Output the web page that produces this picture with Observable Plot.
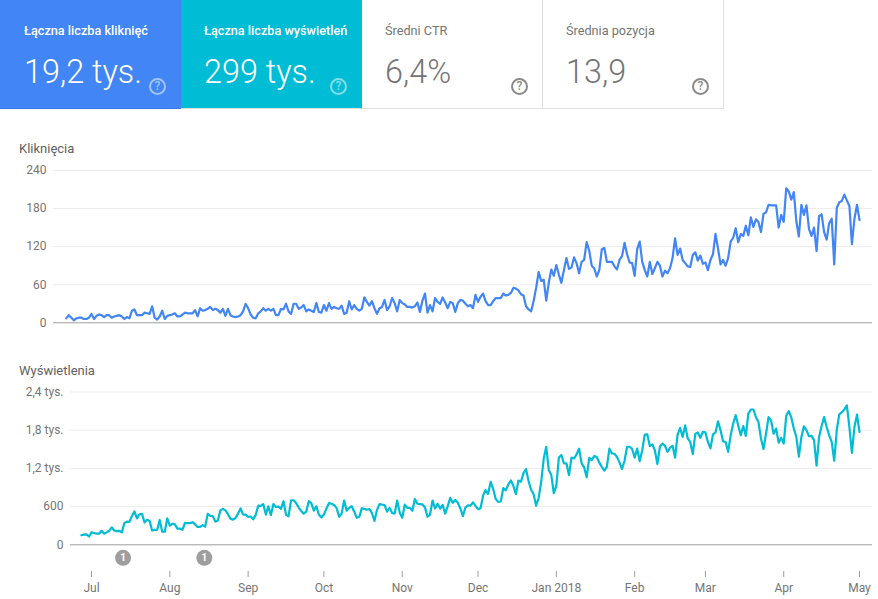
<!DOCTYPE html>
<html>
<head>
<meta charset="utf-8">
<script src="https://cdn.jsdelivr.net/npm/d3@7"></script>
<script src="https://cdn.jsdelivr.net/npm/@observablehq/plot@0.6"></script>
<style>
html,body{margin:0;padding:0;background:#fff;font-family:Roboto,sans-serif}
#page{position:relative;width:878px;height:599px;overflow:hidden}
.card{position:absolute;top:0;height:109px;box-sizing:border-box;border-bottom:1px solid #e0e0e0;border-right:1px solid #e0e0e0}
.card .l{position:absolute;top:22px;font-size:12.7px;line-height:18px;white-space:nowrap}
.card .v{position:absolute;top:50px;font-size:32.4px;line-height:44px;font-weight:300;white-space:nowrap}
.card .q{position:absolute;top:78px;width:17px;height:17px;box-sizing:border-box;border-radius:50%;border:2px solid;font-size:12px;line-height:13px;text-align:center;font-weight:500}
.chartTitle{position:absolute;left:19px;font-size:13px;line-height:16px;color:#616161}
.chart{position:absolute;left:0}
.chart svg{display:block;overflow:visible}
</style>
</head>
<body>
<div id="page"></div>
<script>
const startClicks = "2017-06-21";
const startImpressions = "2017-06-27";
const clicks = [
7,12,8,4,7,8,8,6,6,8,
14,6,11,13,12,9,12,12,8,10,
11,12,10,6,9,7,19,21,12,12,
12,16,15,14,26,8,5,10,19,6,
11,12,13,15,10,10,13,16,15,15,15,
20,10,23,19,20,22,25,20,22,20,
16,22,11,22,12,10,9,10,12,18,
30,23,13,8,7,15,18,23,19,22,
19,22,12,12,22,21,30,18,14,30,
30,22,24,28,18,21,19,17,31,17,
16,28,19,31,22,25,23,22,27,14,
16,34,21,28,22,19,22,40,33,27,
34,23,14,23,25,36,20,26,39,31,
18,36,31,29,25,25,24,26,32,17,35,
46,16,28,18,39,33,30,40,32,23,
33,31,17,31,36,35,30,26,28,23,
44,33,41,46,34,28,28,34,39,39,
39,46,43,44,47,55,54,51,45,43,
26,21,18,34,55,80,66,68,35,63,
84,74,91,76,63,83,102,85,87,103,
94,78,96,99,127,114,90,86,73,83,
116,118,96,96,96,89,84,99,105,126,108,
95,94,74,116,128,96,83,73,96,77,
86,96,90,73,82,78,86,102,133,107,
117,99,94,89,88,107,111,98,106,93,95,
83,99,108,140,117,92,99,90,102,128,
134,149,127,140,137,153,138,166,151,163,
159,143,172,174,186,185,185,185,150,170,159,
212,207,194,206,160,136,186,170,185,148,
137,150,113,168,171,143,131,157,164,92,
181,190,192,202,193,184,124,164,186,162
];
const impressions = [
150,160,165,130,195,185,175,175,220,175,
195,220,275,225,215,220,195,340,365,360,
450,525,415,480,485,350,395,375,225,235,
235,390,205,205,415,300,330,320,255,255,
235,345,340,340,355,320,280,280,310,285,
485,455,450,365,380,540,565,540,485,410,
395,420,490,570,475,475,440,445,400,470,
615,610,640,475,605,465,640,595,600,565,
685,470,450,700,700,655,585,530,490,520,
685,655,535,605,475,430,475,570,655,645,
625,580,440,490,695,535,580,605,520,425,
440,575,565,550,560,500,375,545,640,630,
625,520,580,500,490,695,505,425,630,580,
580,535,720,645,640,635,585,440,475,695,
570,645,570,625,490,605,740,660,705,660,
570,450,585,620,615,665,610,560,575,775,
860,800,990,875,720,675,680,890,855,950,
1010,925,795,1010,990,1125,1190,1000,865,795,
615,735,990,1355,1540,1175,1095,810,930,1370,
1410,1280,1280,1095,1370,1355,1420,1510,1280,1215,
1060,1365,1330,1395,1380,1290,1225,1165,1225,1510,
1435,1430,1380,1295,1190,1320,1540,1540,1505,1370,
1510,1315,1485,1730,1735,1550,1575,1485,1270,1540,
1590,1555,1460,1525,1555,1370,1730,1835,1695,1875,
1670,1615,1425,1740,1765,1680,1775,1765,1615,1515,
1735,1765,1940,1800,1625,1615,1460,1720,1905,2035,
1875,1720,1865,1710,2060,2125,2125,2005,1930,1670,
1505,1745,2005,1955,1745,1825,1605,1680,1590,2025,
2100,2000,1825,1695,1385,1695,1860,1800,1705,1710,
1645,1245,1695,1865,2005,1850,1720,1615,1320,1800,
2050,2085,2125,2190,1850,1445,1850,2045,1775
];
const clickTicks = [0,60,120,180,240];
const clickTickLabels = ["0","60","120","180","240"];
const impressionTicks = [0,600,1200,1800,2400];
const impressionTickLabels = ["0","600","1,2 tys.","1,8 tys.","2,4 tys."];
const monthDates = ["2017-07-01","2017-08-01","2017-09-01","2017-10-01","2017-11-01","2017-12-01","2018-01-01","2018-02-01","2018-03-01","2018-04-01","2018-05-01"];
const monthLabels = ["Jul","Aug","Sep","Oct","Nov","Dec","Jan 2018","Feb","Mar","Apr","May"];
const annotationDates = ["2017-07-13T12:00Z","2017-08-14T16:00Z"];
const annotationLabels = ["1","1"];
const cardLabels = ["Łączna liczba kliknięć","Łączna liczba wyświetleń","Średni CTR","Średnia pozycja"];
const cardValues = ["19,2 tys.","299 tys.","6,4%","13,9"];

const page = document.getElementById("page");
const cardStyle = [
  {left:0,width:181,bg:"#4285f4",fg:"#fff",val:"#fff",q:"rgba(255,255,255,.5)",border:"#3b78e0",tx:24,qx:149},
  {left:181,width:181,bg:"#00bcd4",fg:"#fff",val:"#fff",q:"rgba(255,255,255,.5)",border:"#e0e0e0",tx:23,qx:149},
  {left:362,width:181,bg:"#fff",fg:"#757575",val:"#757575",q:"#8a8a8a",border:"#e0e0e0",tx:23,qx:149},
  {left:543,width:181,bg:"#fff",fg:"#757575",val:"#757575",q:"#8a8a8a",border:"#e0e0e0",tx:23,qx:149}
];
cardLabels.forEach((t,i)=>{
  const s = cardStyle[i];
  const c = document.createElement("div");
  c.className = "card";
  c.style.cssText = `left:${s.left}px;width:${s.width}px;background:${s.bg};border-bottom-color:${s.border};border-right-color:${i<2?"transparent":"#e0e0e0"}`;
  c.innerHTML = `<div class="l" style="left:${s.tx}px;color:${s.fg}${i<2?";font-weight:500":""}">${t}</div>`+
    `<div class="v" style="left:${s.tx}px;color:${s.val}">${cardValues[i]}</div>`+
    `<div class="q" style="left:${s.qx}px;color:${s.q}">?</div>`;
  page.appendChild(c);
});

function title(text, top){
  const d = document.createElement("div");
  d.className = "chartTitle"; d.textContent = text; d.style.top = top+"px";
  page.appendChild(d);
}
const parse = s => new Date(s);
const font = {fontFamily:"Roboto, sans-serif", fontSize:"12px", background:"transparent", overflow:"visible"};
const xScale = {type:"utc", domain:[parse(monthDates[0]), parse(monthDates[10])], range:[91,859]};
const series = (start, arr) => arr.map((v,i)=>({date:d3.utcDay.offset(parse(start),i), v}));

function chart(o){
  const marks = [
    Plot.ruleY(o.ticks.slice(1), {stroke:"#ececec", strokeWidth:1}),
    Plot.ruleY([0], {stroke:"#9e9e9e", strokeWidth:1}),
    Plot.axisY({ticks:o.ticks, tickFormat:(d)=>o.labels[o.ticks.indexOf(d)], tickSize:0, tickPadding:7, label:null, fill:"#757575"}),
    Plot.lineY(series(o.start,o.values), {x:"date", y:"v", stroke:o.color, strokeWidth:2.2, strokeLinejoin:"round"}),
    ...(o.extra||[])
  ];
  const p = Plot.plot({
    width:878, height:o.height,
    marginLeft:o.left, marginRight:6, marginTop:o.mt, marginBottom:o.mb,
    style:font,
    x:{...xScale, axis:null},
    y:{domain:[0,o.ticks[4]], range:o.range, axis:null},
    marks
  });
  const d = document.createElement("div");
  d.className = "chart"; d.style.top = o.top+"px";
  d.appendChild(p); page.appendChild(d);
}

title("Kliknięcia", 141);
chart({top:160,height:170,left:53,mt:5,mb:5,range:[162.3,10],ticks:clickTicks,labels:clickTickLabels,start:startClicks,values:clicks,color:"#4285f4"});

title("Wyświetlenia", 363);
chart({top:380,height:219,left:70,mt:5,mb:28,range:[164.3,11.5],ticks:impressionTicks,labels:impressionTickLabels,start:startImpressions,values:impressions,color:"#00bcd4",
  extra:[
    Plot.axisX({ticks:monthDates.map(parse), tickFormat:(d)=>monthLabels[monthDates.findIndex(m=>+parse(m)===+d)], tickSize:6, tickPadding:6, label:null, stroke:"#9e9e9e", fill:"#757575"}),
    Plot.dot(annotationDates.map(parse), {x:d=>d, y:()=>-205, r:8, fill:"#9e9e9e", stroke:"none"}),
    Plot.text(annotationDates.map((d,i)=>({d:parse(d),t:annotationLabels[i]})), {x:"d", y:()=>-205, text:"t", fill:"#fff", fontSize:10, fontWeight:700})
  ]});
</script>
</body>
</html>
